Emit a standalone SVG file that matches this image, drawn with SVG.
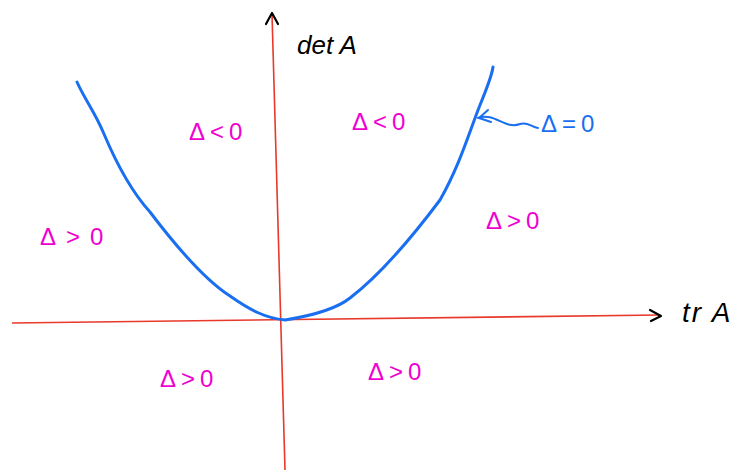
<svg xmlns="http://www.w3.org/2000/svg" width="737" height="472" viewBox="0 0 737 472">
<style>
.ax{stroke:#e8392a;stroke-width:1.6;fill:none}
.ah{stroke:#000;stroke-width:2.2;fill:none;stroke-linecap:round;stroke-linejoin:round}
.cv{stroke:#1a6ff0;stroke-width:3;fill:none;stroke-linecap:round;stroke-linejoin:round}
.lbl{font-family:"Liberation Sans",sans-serif;font-size:24px;fill:#f000d0;letter-spacing:5px}
.blk{font-family:"Liberation Sans",sans-serif;font-size:26px;fill:#000;font-style:italic}
.blu{font-family:"Liberation Sans",sans-serif;font-size:24px;fill:#1a6ff0;letter-spacing:5px}
</style>
<rect width="737" height="472" fill="#fff"/>
<g id="connectors">
<path class="ax" d="M12 323 L660 315"/>
<path class="ah" d="M650 310 L661 316 L651 321"/>
<path class="ax" d="M285 470 L272 14"/>
<path class="ah" d="M266 24 L272 13 L278 24"/>
<path class="cv" d="M77 82 C85 100 95 112 104 134 C115 160 130 190 150 212 C175 245 205 280 230 296 C250 310 265 318 285 320 C310 316 335 310 350 298 C380 275 410 240 440 200 C460 165 470 130 480 105 C487 88 492 75 493 67"/>
<path d="M478 118 C495 112 505 130 520 124 C528 121 532 128 538 128" stroke="#1a6ff0" stroke-width="2" fill="none" stroke-linecap="round"/>
<path d="M488 110 L479 118 L491 122" stroke="#1a6ff0" stroke-width="2" fill="none" stroke-linecap="round" stroke-linejoin="round"/>
</g>
<g id="axis-labels">
<text class="blk" x="297" y="54">det A</text>
<text class="blk" x="682" y="322" style="font-size:28px;letter-spacing:2px">tr A</text>
</g>
<g id="regions">
<text class="lbl" x="189" y="140">Δ&lt;0</text>
<text class="lbl" x="352" y="130">Δ&lt;0</text>
<text class="lbl" x="40" y="245" style="letter-spacing:10px">Δ&gt;0</text>
<text class="lbl" x="486" y="229">Δ&gt;0</text>
<text class="lbl" x="160" y="387">Δ&gt;0</text>
<text class="lbl" x="368" y="380">Δ&gt;0</text>
<text class="blu" x="541" y="132">Δ=0</text>
</g>
</svg>
